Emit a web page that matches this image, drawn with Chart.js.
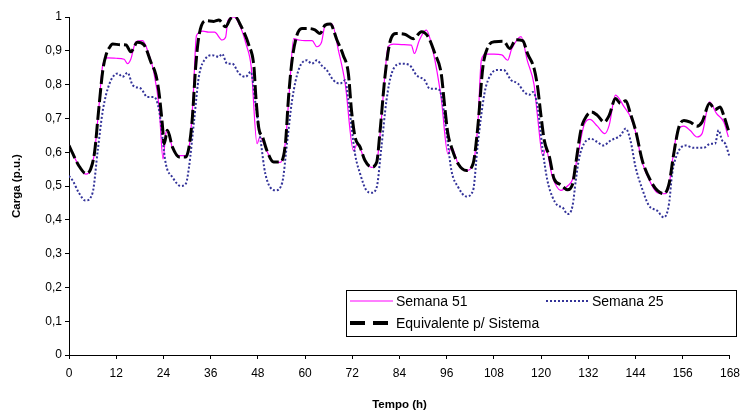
<!DOCTYPE html>
<html>
<head>
<meta charset="utf-8">
<script src="https://cdn.jsdelivr.net/npm/chart.js@4/dist/chart.umd.min.js"></script>
<style>
  html, body { margin: 0; padding: 0; background: #fff; }
</style>
</head>
<body>
<canvas id="grafico" width="747" height="412"></canvas>
<script>
// curvas de carga (p.u.), horas irregulares
const horasSemana51 = [0, 1, 2.5, 4.3, 5.5, 6.5, 7.5, 8.6, 9.8, 12, 14, 14.9, 15.7, 17, 18.7, 20, 21.5, 22.9, 23.9, 24.6, 25,
  26.3, 28, 29.9, 30.7, 31.5, 32.4, 34, 35.5, 37, 38.9, 39.8, 40.4, 41.9, 43.6, 45, 46.3, 47.8, 48.5, 50.3, 52, 53.7,
  55, 56, 57.1, 58.4, 60, 61.8, 63, 64.2, 65.1, 66.8, 68.5, 70.2, 72.3, 73.3, 75.2, 76.9, 78.2, 79.2, 80.3, 81.1, 82.5,
  85, 87, 87.8, 89, 90.8, 92.5, 94.6, 96.3, 97.2, 98.9, 101, 102.7, 103.9, 104.8, 106, 108, 110, 111.5, 112.5, 114.9,
  116.5, 118.2, 119.1, 120.4, 121.2, 122.8, 125, 126.7, 128, 129.3, 130.9, 132.4, 134.3, 136.2, 137.3, 138.9, 141.1,
  142.7, 144, 145.7, 147.8, 149.5, 151.2, 152.5, 153.3, 154.6, 156.3, 157.9, 159.6, 160.9, 162.8, 164.6, 166.4, 167.6];
const cargaSemana51 = [0.62, 0.595, 0.56, 0.535, 0.548, 0.6, 0.72, 0.86, 0.879, 0.878, 0.875, 0.862, 0.875, 0.927, 0.93, 0.9, 0.84, 0.734, 0.58, 0.655, 0.665,
  0.612, 0.59, 0.59, 0.63, 0.75, 0.945, 0.958, 0.955, 0.955, 0.932, 0.94, 0.99, 1.0, 0.97, 0.92, 0.853, 0.625, 0.645, 0.603, 0.57, 0.57,
  0.63, 0.78, 0.936, 0.932, 0.93, 0.93, 0.912, 0.926, 0.976, 0.98, 0.9, 0.803, 0.605, 0.625, 0.576, 0.555, 0.57, 0.67, 0.83, 0.912, 0.92,
  0.918, 0.917, 0.892, 0.93, 0.961, 0.9, 0.76, 0.595, 0.615, 0.566, 0.546, 0.566, 0.68, 0.872, 0.89, 0.89, 0.888, 0.872, 0.905, 0.942,
  0.87, 0.8, 0.704, 0.59, 0.61, 0.53, 0.487, 0.5, 0.52, 0.59, 0.68, 0.697, 0.677, 0.655, 0.68, 0.769, 0.734,
  0.705, 0.66, 0.57, 0.51, 0.48, 0.477, 0.5, 0.57, 0.66, 0.677, 0.664, 0.645, 0.655, 0.749, 0.714, 0.69, 0.645];

const horasSemana25 = [0, 1, 2.5, 4.2, 6, 7.3, 8.6, 10.3, 12.4, 13.6, 14.9, 16.2, 18.3, 19.9, 21.6, 22.9, 24.6, 26.3, 28.4, 29.7,
  30.5, 31.8, 33, 34.7, 36.4, 38.1, 38.9, 40.2, 41.5, 43.2, 44.9, 46.2, 47.4, 48.7, 49.9, 52.5, 54.2, 55.4, 56.7, 58.4,
  60.5, 61.7, 63, 64.2, 65.5, 67.2, 68.9, 70.2, 71, 72.7, 74, 75.6, 76.9, 78.2, 79.4, 80.7, 82, 84.5, 86.6, 88.3, 90.4,
  91.7, 93.5, 94.6, 95.9, 97.2, 98.9, 101, 102.7, 103.9, 105.6, 106.5, 108.6, 110.5, 112.4, 114.1, 115.7, 117, 117.9,
  119.1, 120.4, 121.6, 122.9, 124.2, 125.4, 126.7, 128, 128.8, 129.7, 130.9, 132.6, 134.3, 135.8, 137.7, 140.2, 141.5,
  142.7, 144, 145.7, 147.4, 149.5, 151.2, 152.5, 153.3, 154.6, 156.7, 158.7, 161.3, 163, 164.2, 165.1, 166, 166.8, 167.8];
const cargaSemana25 = [0.53, 0.515, 0.48, 0.457, 0.48, 0.605, 0.724, 0.803, 0.833, 0.823, 0.835, 0.798, 0.788, 0.763, 0.763, 0.724, 0.566, 0.526, 0.5, 0.507,
  0.556, 0.694, 0.823, 0.877, 0.887, 0.882, 0.891, 0.862, 0.862, 0.833, 0.823, 0.838, 0.744, 0.635, 0.536, 0.487, 0.51, 0.625, 0.754, 0.845,
  0.872, 0.862, 0.872, 0.857, 0.843, 0.813, 0.803, 0.813, 0.754, 0.595, 0.536, 0.487, 0.48, 0.496, 0.615, 0.754, 0.833, 0.862, 0.857, 0.828, 0.813,
  0.788, 0.788, 0.77, 0.664, 0.546, 0.497, 0.469, 0.487, 0.625, 0.774, 0.813, 0.843, 0.843, 0.813, 0.803, 0.778, 0.77, 0.778,
  0.734, 0.605, 0.516, 0.467, 0.442, 0.437, 0.417, 0.442, 0.516, 0.585, 0.625, 0.64, 0.63, 0.62, 0.635, 0.65, 0.67,
  0.635, 0.556, 0.491, 0.442, 0.427, 0.407, 0.447, 0.536, 0.595, 0.62, 0.613, 0.613, 0.625, 0.625, 0.665, 0.635, 0.625, 0.59];

const horasSistema = [0, 1, 2.5, 4.3, 5.5, 6.5, 7.5, 8.6, 9.4, 10.3, 11.1, 13, 14.5, 15.7, 17.4, 19.1, 20.8, 22.1, 22.9, 23.7,
  24.2, 25, 26.3, 28, 29.7, 30.5, 31.3, 32.2, 33, 34.7, 36.8, 38.1, 39.8, 41.1, 42.3, 43.6, 45.7, 47, 47.5, 48.2, 49.2,
  50.3, 52, 53.7, 55, 55.8, 56.7, 57.9, 59.2, 60.9, 62.5, 63.8, 65.1, 66.4, 68.1, 69.7, 71, 71.8, 72.7, 74, 75.2, 76.9,
  78.2, 79, 80.3, 81.6, 83.2, 85.3, 87.5, 89.6, 91.3, 93, 94.6, 95.5, 96.3, 97.2, 98.9, 101, 102.7, 103.9, 105.2, 106.5,
  108.2, 110.5, 112, 113.6, 115.3, 116.6, 118.2, 119.1, 120, 120.8, 122.1, 123.3, 125, 126.7, 128, 128.8, 130.1, 130.9,
  132.8, 134.3, 136, 137.3, 138.9, 140.2, 141.5, 142.7, 144, 145.7, 147.8, 149.5, 151.2, 152.5, 153.7, 155, 156.3, 157.9,
  159.6, 160.9, 162.8, 164.2, 165.5, 166.4, 167.6];
const cargaSistema = [0.62, 0.595, 0.56, 0.537, 0.55, 0.6, 0.72, 0.843, 0.887, 0.91, 0.92, 0.918, 0.917, 0.897, 0.925, 0.917, 0.867, 0.828, 0.774, 0.685,
  0.625, 0.665, 0.615, 0.586, 0.586, 0.615, 0.694, 0.853, 0.942, 0.989, 0.987, 0.991, 0.971, 0.996, 1.0, 0.976, 0.917, 0.853, 0.763, 0.674, 0.645,
  0.605, 0.571, 0.571, 0.625, 0.763, 0.872, 0.945, 0.966, 0.966, 0.962, 0.951, 0.976, 0.979, 0.932, 0.887, 0.833, 0.724, 0.645, 0.615, 0.576, 0.556,
  0.57, 0.655, 0.823, 0.927, 0.951, 0.949, 0.936, 0.956, 0.941, 0.892, 0.833, 0.734, 0.655, 0.615, 0.566, 0.546, 0.566, 0.674, 0.853, 0.912,
  0.927, 0.928, 0.907, 0.933, 0.93, 0.89, 0.848, 0.793, 0.704, 0.635, 0.586, 0.521, 0.504, 0.489, 0.506, 0.566, 0.665, 0.694,
  0.719, 0.709, 0.689, 0.709, 0.759, 0.744, 0.752, 0.714, 0.665, 0.576, 0.516, 0.487, 0.477, 0.506, 0.595, 0.674, 0.694, 0.689,
  0.677, 0.689, 0.744, 0.726, 0.734, 0.709, 0.665];

const pontos = (xs, ys) => xs.map((x, i) => ({ x: x, y: ys[i] }));
const fonte = '"Liberation Sans", Arial, sans-serif';

// legenda em caixa dentro da área do gráfico (como no Excel)
const legendaCaixa = {
  id: 'legendaCaixa',
  afterDraw(chart) {
    const ctx = chart.ctx;
    const ds = chart.data.datasets;
    ctx.save();
    ctx.fillStyle = '#fff';
    ctx.fillRect(346.5, 290.5, 390, 46);
    ctx.strokeStyle = '#000';
    ctx.lineWidth = 1;
    ctx.strokeRect(346.5, 290.5, 390, 46);
    ctx.font = '14px ' + fonte;
    ctx.textBaseline = 'middle';
    [[0, 350, 301], [1, 546, 301], [2, 350, 323]].forEach(([i, x, y]) => {
      const d = ds[i];
      ctx.beginPath();
      ctx.strokeStyle = d.borderColor;
      ctx.lineWidth = d.legendWidth || d.borderWidth;
      ctx.setLineDash(d.legendDash || d.borderDash || []);
      ctx.moveTo(x, y);
      ctx.lineTo(x + 43, y);
      ctx.stroke();
      ctx.setLineDash([]);
      ctx.fillStyle = '#000';
      ctx.fillText(d.label, x + 46, y + 1);
    });
    ctx.restore();
  }
};

new Chart(document.getElementById('grafico'), {
  type: 'line',
  data: {
    datasets: [
      { label: 'Semana 51', data: pontos(horasSemana51, cargaSemana51), borderColor: '#ff00ff', borderWidth: 1.2, order: 3 },
      { label: 'Semana 25', data: pontos(horasSemana25, cargaSemana25), borderColor: '#333399', borderWidth: 2, borderDash: [2, 2], order: 2 },
      { label: 'Equivalente p/ Sistema', data: pontos(horasSistema, cargaSistema), borderColor: '#000', borderWidth: 3, borderDash: [14, 4], legendWidth: 4, legendDash: [15, 8], order: 1 }
    ]
  },
  options: {
    responsive: false,
    animation: false,
    layout: { padding: { top: 17, right: 11, bottom: 0, left: 0 } },
    elements: { point: { radius: 0 }, line: { cubicInterpolationMode: 'monotone', fill: false } },
    plugins: { legend: { display: false }, tooltip: { enabled: false } },
    scales: {
      x: {
        type: 'linear', min: 0, max: 168,
        ticks: { stepSize: 12, color: '#000', padding: 7, font: { family: fonte, size: 12 } },
        grid: { drawOnChartArea: false, tickLength: 4, color: '#000' },
        border: { color: '#000' },
        title: { display: true, text: 'Tempo (h)', color: '#000', font: { family: fonte, size: 11.5, weight: 'bold' }, padding: { top: 0, bottom: 0 } },
        afterFit: s => { s.height = 57; }
      },
      y: {
        min: 0, max: 1,
        ticks: { stepSize: 0.1, color: '#000', padding: 3, font: { family: fonte, size: 12 },
          callback: v => String(Number(v.toFixed(1))).replace('.', ',') },
        grid: { drawOnChartArea: false, tickLength: 4, color: '#000' },
        border: { color: '#000' },
        title: { display: true, text: 'Carga (p.u.)', color: '#000', font: { family: fonte, size: 11.5, weight: 'bold' }, padding: { top: 10 } },
        afterFit: s => { s.width = 69; }
      }
    }
  },
  plugins: [legendaCaixa]
});
</script>
</body>
</html>
